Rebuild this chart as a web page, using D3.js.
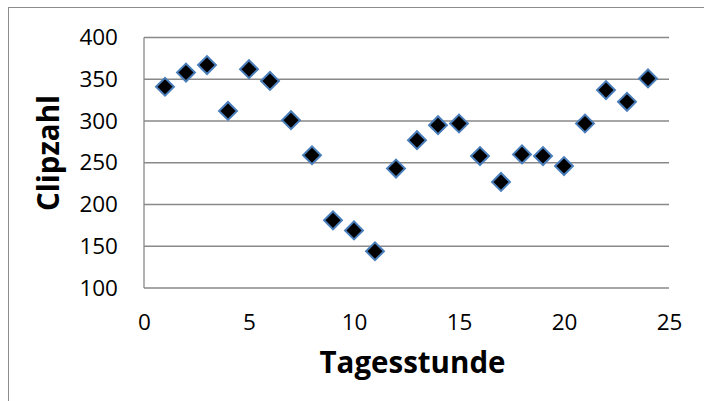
<!DOCTYPE html>
<html>
<head>
<meta charset="utf-8">
<script src="https://cdn.jsdelivr.net/npm/d3@7"></script>
<style>
  body { margin: 0; background: #fff; }
  text { font-family: "Open Sans", Lato, sans-serif; fill: #000; }
</style>
</head>
<body>
<div id="grafico"></div>
<script>
// Datos
const horas = [1, 2, 3, 4, 5, 6, 7, 8, 9, 10, 11, 12, 13, 14, 15, 16, 17, 18, 19, 20, 21, 22, 23, 24];
const clips = [341, 358, 367, 312, 362, 348, 301, 259, 181, 169, 144, 243, 277, 295, 297, 258, 227, 260, 258, 246, 297, 337, 323, 351];
const ticksX = [0, 5, 10, 15, 20, 25];
const ticksY = [100, 150, 200, 250, 300, 350, 400];

const ancho = 704, alto = 401;
const svg = d3.select("#grafico").append("svg")
  .attr("width", ancho)
  .attr("height", alto);

// Marco del gráfico
svg.append("rect")
  .attr("x", 8.5).attr("y", 7.5)
  .attr("width", 720).attr("height", 420)
  .attr("fill", "none")
  .attr("stroke", "#8c8c8c")
  .attr("stroke-width", 1);

const x = d3.scaleLinear().domain([0, 25]).range([144, 669]);
const y = d3.scaleLinear().domain([100, 400]).range([288, 37.5]);

// Líneas de cuadrícula
svg.append("g")
  .selectAll("line")
  .data(ticksY)
  .join("line")
  .attr("x1", x(0)).attr("x2", x(25))
  .attr("y1", d => y(d)).attr("y2", d => y(d))
  .attr("stroke", "#898989")
  .attr("stroke-width", 1.3);

// Eje vertical
svg.append("line")
  .attr("x1", x(0)).attr("x2", x(0))
  .attr("y1", y(400)).attr("y2", y(100))
  .attr("stroke", "#898989")
  .attr("stroke-width", 1.3);

// Etiquetas del eje Y
const ejeY = d3.axisLeft(y).tickValues(ticksY).tickSize(0).tickPadding(26);
const gY = svg.append("g").attr("transform", `translate(${x(0)},0)`).call(ejeY);
gY.select(".domain").remove();
gY.selectAll("text").style("font-size", "22.5px").style("font-family", "'Open Sans', sans-serif");

// Etiquetas del eje X
const ejeX = d3.axisBottom(x).tickValues(ticksX).tickSize(0).tickPadding(26);
const gX = svg.append("g").attr("transform", `translate(0,${y(100)})`).call(ejeX);
gX.select(".domain").remove();
gX.selectAll("text").style("font-size", "22.5px").style("font-family", "'Open Sans', sans-serif");

// Puntos (rombos)
svg.append("g")
  .selectAll("path")
  .data(horas)
  .join("path")
  .attr("d", d3.symbol().type(d3.symbolSquare).size(160))
  .attr("transform", (d, i) => `translate(${x(d)},${y(clips[i])}) rotate(45)`)
  .attr("fill", "#000")
  .attr("stroke", "#4a7ebb")
  .attr("stroke-width", 2);

// Títulos de los ejes
svg.append("text")
  .attr("x", 412.5).attr("y", 373)
  .attr("text-anchor", "middle")
  .style("font-size", "29.5px")
  .style("font-weight", "bold")
  .text("Tagesstunde");

svg.append("text")
  .attr("transform", "translate(59,153) rotate(-90)")
  .attr("text-anchor", "middle")
  .style("font-size", "29.5px")
  .style("font-weight", "bold")
  .text("Clipzahl");
</script>
</body>
</html>
